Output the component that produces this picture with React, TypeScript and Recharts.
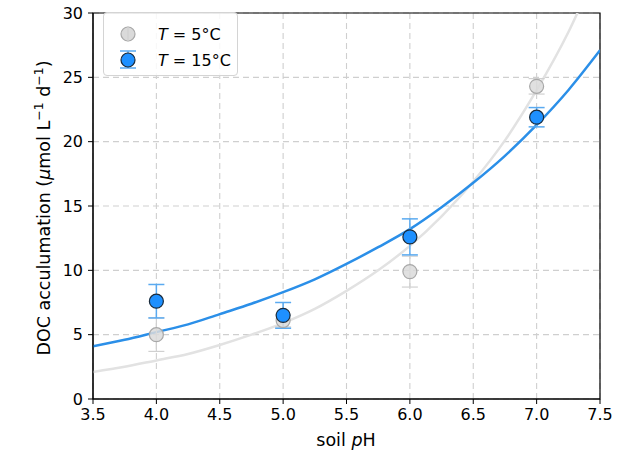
import React from 'react';
import {
  ComposedChart, Line, Scatter, ErrorBar, XAxis, YAxis, CartesianGrid,
  ReferenceArea, Label,
} from 'recharts';

const phLevels = [4.0, 5.0, 6.0, 7.0];
const doc5 = [5.0, 6.1, 9.9, 24.3];
const err5 = [1.3, 0.5, 1.2, 0.6];
const doc15 = [7.6, 6.5, 12.6, 21.9];
const err15 = [1.3, 1.0, 1.4, 0.75];

// fitted curves
const fitPh = [3.5, 3.75, 4.0, 4.25, 4.5, 4.75, 5.0, 5.25, 5.5, 5.75, 6.0, 6.25, 6.5, 6.75, 7.0, 7.25, 7.5];
const fit5 = [2.1, 2.5, 3.0, 3.5, 4.2, 5.0, 5.9, 7.0, 8.4, 10.0, 11.9, 14.2, 16.9, 20.1, 24.0, 28.5, 34.0];
const fit15 = [4.1, 4.6, 5.2, 5.8, 6.6, 7.4, 8.3, 9.3, 10.5, 11.8, 13.2, 14.9, 16.8, 18.9, 21.3, 24.0, 27.1];

const xTicks = [3.5, 4.0, 4.5, 5.0, 5.5, 6.0, 6.5, 7.0, 7.5];
const yTicks = [0, 5, 10, 15, 20, 25, 30];

const FONT = '"DejaVu Sans", sans-serif';
const BLUE = '#2b8fe8';
const BLUE_ERR = '#5aaaf0';

const pts5 = phLevels.map((x, i) => ({ x, y: doc5[i], err: err5[i] }));
const pts15 = phLevels.map((x, i) => ({ x, y: doc15[i], err: err15[i] }));
const curve5 = fitPh.map((x, i) => ({ x, y: fit5[i] }));
const curve15 = fitPh.map((x, i) => ({ x, y: fit15[i] }));

const GrayDot = (p: any) => (
  <circle cx={p.cx} cy={p.cy} r={7} fill="#dadada" fillOpacity={0.85} stroke="#a8a8a8" strokeWidth={1.2} />
);
const BlueDot = (p: any) => (
  <circle cx={p.cx} cy={p.cy} r={7} fill="#1e90ff" stroke="#1a2a3a" strokeWidth={1.2} />
);

const LegendBox = () => (
  <div style={{
    position: 'absolute', left: 103, top: 12,
    border: '1px solid #d4d4d4', borderRadius: 4, background: 'rgba(255,255,255,0.85)',
    width: 135, height: 64, boxSizing: 'border-box',
  }}>
    <svg width={133} height={62} style={{ display: 'block' }}>
      <circle cx={24} cy={21} r={7} fill="#dadada" stroke="#a8a8a8" strokeWidth={1.2} />
      <line x1={24} y1={13} x2={24} y2={29} stroke="#d0d0d0" strokeWidth={1.2} />
      <line x1={16} y1={38} x2={32} y2={38} stroke={BLUE_ERR} strokeWidth={1.5} />
      <line x1={16} y1={55} x2={32} y2={55} stroke={BLUE_ERR} strokeWidth={1.5} />
      <line x1={24} y1={38} x2={24} y2={55} stroke={BLUE_ERR} strokeWidth={1.5} />
      <circle cx={24} cy={47} r={7} fill="#1e90ff" stroke="#1a2a3a" strokeWidth={1.2} />
      <text x={54} y={27} fontFamily={FONT} fontSize={16}>
        <tspan fontStyle="italic">T</tspan> = 5°C
      </text>
      <text x={54} y={53} fontFamily={FONT} fontSize={16}>
        <tspan fontStyle="italic">T</tspan> = 15°C
      </text>
    </svg>
  </div>
);

const YLabel = () => (
  <text x={0} y={0} transform="translate(50,208) rotate(-90)" textAnchor="middle"
    fontFamily={FONT} fontSize={17.5} fill="#000">
    DOC acculumation (<tspan fontStyle="italic">μ</tspan>mol L
    <tspan dy={-7} fontSize={12.5}>−1</tspan>
    <tspan dy={7}> d</tspan>
    <tspan dy={-7} fontSize={12.5}>−1</tspan>
    <tspan dy={7}>)</tspan>
  </text>
);

const XLabel = () => (
  <text x={346} y={446} textAnchor="middle" fontFamily={FONT} fontSize={17.5} fill="#000">
    soil <tspan fontStyle="italic">p</tspan>H
  </text>
);

export default function App() {
  return (
    <div style={{ position: 'absolute', left: 0, top: 0, width: 623, height: 456, background: '#fff' }}>
      <ComposedChart width={623} height={456} margin={{ top: 13, right: 23, left: 0, bottom: 0 }}>
        <CartesianGrid stroke="#cfcfcf" strokeDasharray="6 4" strokeWidth={1.1} />
        <XAxis
          dataKey="x" type="number" domain={[3.5, 7.5]} ticks={xTicks} height={57}
          tickFormatter={(v: number) => v.toFixed(1)} allowDataOverflow
          tick={{ fill: '#000', fontSize: 16, fontFamily: FONT }} stroke="#000"
          tickSize={5} tickMargin={5} interval={0}
        >
          <Label content={<XLabel />} />
        </XAxis>
        <YAxis
          dataKey="y" type="number" domain={[0, 30]} ticks={yTicks} width={93} allowDataOverflow
          tick={{ fill: '#000', fontSize: 16, fontFamily: FONT }} stroke="#000"
          tickSize={5} tickMargin={5} interval={0}
        >
          <Label content={<YLabel />} />
        </YAxis>
        <ReferenceArea x1={3.5} x2={7.5} y1={0} y2={30} fill="none" stroke="#000" strokeWidth={1.2} ifOverflow="visible" />
        <Line data={curve5} dataKey="y" type="monotone" stroke="#e2e2e2" strokeWidth={2.5} dot={false} isAnimationActive={false} legendType="none" />
        <Line data={curve15} dataKey="y" type="monotone" stroke={BLUE} strokeWidth={2.5} dot={false} isAnimationActive={false} legendType="none" />
        <Scatter data={pts5} dataKey="y" shape={GrayDot} isAnimationActive={false}>
          <ErrorBar dataKey="err" direction="y" width={8} stroke="#d0d0d0" strokeWidth={1.2} />
        </Scatter>
        <Scatter data={pts15} dataKey="y" shape={BlueDot} isAnimationActive={false}>
          <ErrorBar dataKey="err" direction="y" width={8} stroke={BLUE_ERR} strokeWidth={1.5} />
        </Scatter>
      </ComposedChart>
      <LegendBox />
    </div>
  );
}
